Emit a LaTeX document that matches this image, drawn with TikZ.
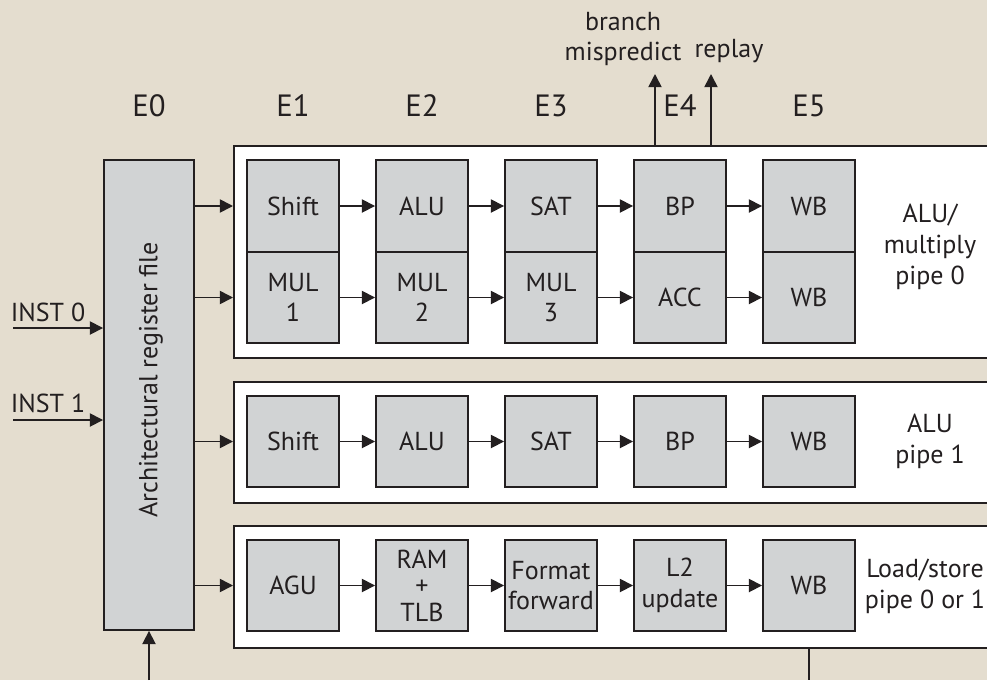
\documentclass[tikz,border=0pt]{standalone}
\usepackage{fontspec}
\setmainfont{PT Sans}
\usetikzlibrary{arrows.meta}
\definecolor{paper}{HTML}{E4DDCF}
\definecolor{unit}{HTML}{D1D3D4}
\definecolor{ink}{HTML}{231F20}

\begin{document}
\begin{tikzpicture}[x=0.02cm, y=-0.02cm,
  every node/.style={font=\fontsize{14.8}{17.5}\selectfont, text=ink, align=center},
  stage/.style={draw=ink, line width=1.1pt, fill=unit, minimum width=1.84cm, minimum height=1.83cm, inner sep=0pt},
  pipe/.style={draw=ink, line width=1.1pt, fill=white, inner sep=0pt, anchor=north west, minimum width=16cm},
  flow/.style={-{Triangle[length=7.5pt, width=7.5pt]}, draw=ink, line width=0.95pt},
  wire/.style={draw=ink, line width=0.95pt},
  stagename/.style={font=\fontsize{17.5}{20}\selectfont}]
  \useasboundingbox (0,0) rectangle (987,680);
  \clip (0,0) rectangle (987,680);
  \fill[paper] (0,0) rectangle (987,680);

  % stage names
  \node[stagename] (E0) at (149,106) {E0};
  \node[stagename] (E1) at (293,106) {E1};
  \node[stagename] (E2) at (422,106) {E2};
  \node[stagename] (E3) at (551,106) {E3};
  \node[stagename] (E4) at (680,106) {E4};
  \node[stagename] (E5) at (809,106) {E5};

  % register file
  \node[stage, minimum width=1.8cm, minimum height=9.4cm] (rf) at (149,395) {};
  \node[rotate=90] (rflabel) at (151,380) {Architectural register file};

  % pipe frames
  \node[pipe, minimum height=4.24cm] (p0) at (233,145) {};
  \node[pipe, minimum height=2.42cm] (p1) at (233,381) {};
  \node[pipe, minimum height=2.44cm] (p2) at (233,525) {};

  % ALU/multiply pipe 0
  \node[stage] (sh0) at (293,206) {Shift};
  \node[stage] (alu0) at (422,206) {ALU};
  \node[stage] (sat0) at (551,206) {SAT};
  \node[stage] (bp0) at (680,206) {BP};
  \node[stage] (wb0) at (809,206) {WB};
  \node[stage] (mul1) at (293,297.5) {MUL\\1};
  \node[stage] (mul2) at (422,297.5) {MUL\\2};
  \node[stage] (mul3) at (551,297.5) {MUL\\3};
  \node[stage] (acc) at (680,297.5) {ACC};
  \node[stage] (wbm) at (809,297.5) {WB};
  \node (lab0) at (930,247) {ALU/\\multiply\\pipe 0};

  % ALU pipe 1
  \node[stage] (sh1) at (293,441.5) {Shift};
  \node[stage] (alu1) at (422,441.5) {ALU};
  \node[stage] (sat1) at (551,441.5) {SAT};
  \node[stage] (bp1) at (680,441.5) {BP};
  \node[stage] (wb1) at (809,441.5) {WB};
  \node (lab1) at (930,441) {ALU\\pipe 1};

  % load/store pipe
  \node[stage] (agu) at (293,585.5) {AGU};
  \node[stage] (ram) at (422,585.5) {RAM\\[-2.5pt]+\\[-2.5pt]TLB};
  \node[stage] (fmt) at (551,585.5) {Format\\forward};
  \node[stage] (l2) at (680,585.5) {L2\\update};
  \node[stage] (wb2) at (809,585.5) {WB};
  \node (lab2) at (925,586) {Load/store\\pipe 0 or 1};

  % stage to stage
  \draw[flow] (sh0) -- (alu0);
  \draw[flow] (alu0) -- (sat0);
  \draw[flow] (sat0) -- (bp0);
  \draw[flow] (bp0) -- (wb0);
  \draw[flow] (mul1) -- (mul2);
  \draw[flow] (mul2) -- (mul3);
  \draw[flow] (mul3) -- (acc);
  \draw[flow] (acc) -- (wbm);
  \draw[flow] (sh1) -- (alu1);
  \draw[flow] (alu1) -- (sat1);
  \draw[flow] (sat1) -- (bp1);
  \draw[flow] (bp1) -- (wb1);
  \draw[flow] (agu) -- (ram);
  \draw[flow] (ram) -- (fmt);
  \draw[flow] (fmt) -- (l2);
  \draw[flow] (l2) -- (wb2);

  % register file to pipes
  \draw[flow] (rf.east |- sh0) -- (p0.west |- sh0);
  \draw[flow] (rf.east |- mul1) -- (p0.west |- mul1);
  \draw[flow] (rf.east |- sh1) -- (p1.west |- sh1);
  \draw[flow] (rf.east |- agu) -- (p2.west |- agu);

  % instructions in
  \coordinate (in0) at (13,328);
  \coordinate (in1) at (13,420);
  \node (inst0) at (48,312) {INST 0};
  \node (inst1) at (48,403) {INST 1};
  \draw[flow] (in0) -- (in0 -| rf.west);
  \draw[flow] (in1) -- (in1 -| rf.west);

  % outputs from E4
  \coordinate (bm) at (655,74);
  \coordinate (rp) at (711,74);
  \draw[flow] (p0.north west -| bm) -- (bm);
  \draw[flow] (p0.north west -| rp) -- (rp);
  \node (bmtext) at (623,39) {branch\\mispredict};
  \node (rptext) at (729,51) {replay};

  % bottom feedback
  \coordinate (fb) at (149,680);
  \coordinate (wbout) at (809,680);
  \draw[flow] (fb) -- (rf.south);
  \draw[wire] (p2.south west -| wbout) -- (wbout);
\end{tikzpicture}
\end{document}
